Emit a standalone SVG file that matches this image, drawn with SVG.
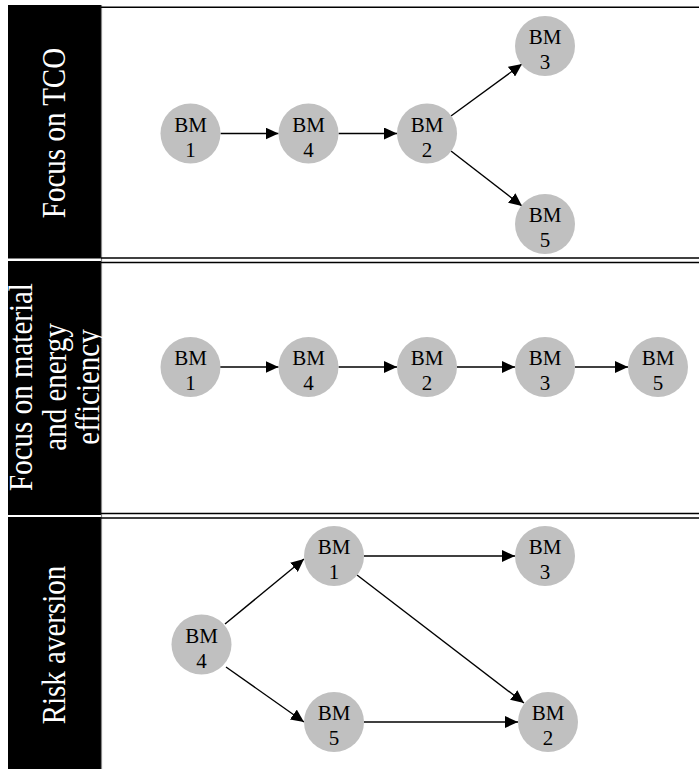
<svg xmlns="http://www.w3.org/2000/svg" width="699" height="769" viewBox="0 0 699 769">
<defs>
<marker id="ah" markerUnits="userSpaceOnUse" markerWidth="13" markerHeight="12" refX="13" refY="6" orient="auto">
<path d="M0,0 L13,6 L0,12 z" fill="#000"/>
</marker>
</defs>
<style>
.strip{fill:#000}
.hl{stroke:#000;stroke-width:1.4}
.vl{stroke:#888;stroke-width:1.2}
.lab{font-family:'Liberation Serif','DejaVu Serif',serif;font-size:29px;fill:#fff;text-anchor:middle}
.nd circle{fill:#c0c0c0}
.nd text{font-family:'Liberation Serif','DejaVu Serif',serif;font-size:21px;fill:#000;text-anchor:middle}
.cn line{stroke:#000;stroke-width:1.4;marker-end:url(#ah)}
</style>
<rect width="699" height="769" fill="#fff"/>
<g id="frame">
<rect class="strip" x="8" y="5" width="93" height="253.5"/>
<rect class="strip" x="8" y="261" width="93" height="254"/>
<rect class="strip" x="8" y="517" width="93" height="252"/>
<line class="vl" x1="101.5" y1="5" x2="101.5" y2="769"/>
<line class="hl" x1="101" y1="7.3" x2="699" y2="7.3"/>
<line class="hl" x1="101" y1="258" x2="699" y2="258"/>
<line class="hl" x1="101" y1="262.5" x2="699" y2="262.5"/>
<line class="hl" x1="101" y1="513.5" x2="699" y2="513.5"/>
<line class="hl" x1="101" y1="518" x2="699" y2="518"/>
</g>
<g id="labels">
<text class="lab" transform="translate(65,133) rotate(-90) scale(1,1.15)">Focus on TCO</text>
<text class="lab" transform="translate(32,387) rotate(-90) scale(1,1.15)">Focus on material</text>
<text class="lab" transform="translate(66,387) rotate(-90) scale(1,1.15)">and energy</text>
<text class="lab" transform="translate(99,387) rotate(-90) scale(1,1.15)">efficiency</text>
<text class="lab" transform="translate(65,645) rotate(-90) scale(1,1.15)">Risk aversion</text>
</g>
<g id="connectors" class="cn">
<line x1="220.5" y1="133.5" x2="278.5" y2="133.5"/>
<line x1="338.5" y1="133.5" x2="397" y2="133.5"/>
<line x1="451" y1="116" x2="522" y2="64"/>
<line x1="451" y1="151" x2="522" y2="206"/>
<line x1="220" y1="367" x2="278.5" y2="367"/>
<line x1="338.5" y1="367" x2="397" y2="367"/>
<line x1="457" y1="367" x2="515" y2="367"/>
<line x1="575" y1="367" x2="628" y2="367"/>
<line x1="225" y1="624" x2="304" y2="559"/>
<line x1="226" y1="667" x2="304" y2="722"/>
<line x1="364" y1="556" x2="515" y2="556"/>
<line x1="357" y1="575" x2="524" y2="703"/>
<line x1="364" y1="722" x2="518" y2="722"/>
</g>
<g id="p1-bm1" class="nd"><circle cx="190.5" cy="133.5" r="30"/><text x="190.5" y="131.5">BM</text><text x="190.5" y="156.5">1</text></g>
<g id="p1-bm4" class="nd"><circle cx="308.5" cy="133.5" r="30"/><text x="308.5" y="131.5">BM</text><text x="308.5" y="156.5">4</text></g>
<g id="p1-bm2" class="nd"><circle cx="427" cy="133.5" r="30"/><text x="427" y="131.5">BM</text><text x="427" y="156.5">2</text></g>
<g id="p1-bm3" class="nd"><circle cx="545" cy="46" r="30"/><text x="545" y="44">BM</text><text x="545" y="69">3</text></g>
<g id="p1-bm5" class="nd"><circle cx="545" cy="224" r="30"/><text x="545" y="222">BM</text><text x="545" y="247">5</text></g>
<g id="p2-bm1" class="nd"><circle cx="190.5" cy="367" r="30"/><text x="190.5" y="365">BM</text><text x="190.5" y="390">1</text></g>
<g id="p2-bm4" class="nd"><circle cx="308.5" cy="367" r="30"/><text x="308.5" y="365">BM</text><text x="308.5" y="390">4</text></g>
<g id="p2-bm2" class="nd"><circle cx="427" cy="367" r="30"/><text x="427" y="365">BM</text><text x="427" y="390">2</text></g>
<g id="p2-bm3" class="nd"><circle cx="545" cy="367" r="30"/><text x="545" y="365">BM</text><text x="545" y="390">3</text></g>
<g id="p2-bm5" class="nd"><circle cx="658" cy="367" r="30"/><text x="658" y="365">BM</text><text x="658" y="390">5</text></g>
<g id="p3-bm4" class="nd"><circle cx="201.5" cy="644.5" r="30"/><text x="201.5" y="642.5">BM</text><text x="201.5" y="667.5">4</text></g>
<g id="p3-bm1" class="nd"><circle cx="334" cy="556" r="30"/><text x="334" y="554">BM</text><text x="334" y="579">1</text></g>
<g id="p3-bm3" class="nd"><circle cx="545" cy="556" r="30"/><text x="545" y="554">BM</text><text x="545" y="579">3</text></g>
<g id="p3-bm5" class="nd"><circle cx="334" cy="722" r="30"/><text x="334" y="720">BM</text><text x="334" y="745">5</text></g>
<g id="p3-bm2" class="nd"><circle cx="548" cy="722" r="30"/><text x="548" y="720">BM</text><text x="548" y="745">2</text></g>
</svg>
